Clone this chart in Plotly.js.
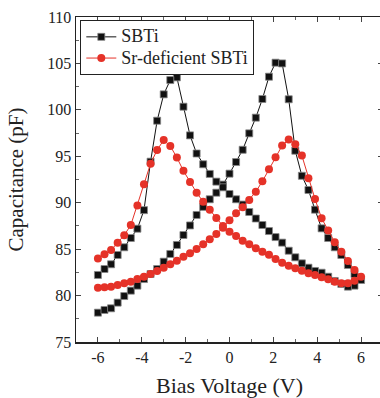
<!DOCTYPE html>
<html>
<head>
<meta charset="utf-8">
<script src="https://cdn.plot.ly/plotly-3.0.1.min.js"></script>
<style>html,body{margin:0;padding:0;overflow:hidden;background:#fff;}#chart{width:390px;height:398px;}</style>
</head>
<body>
<div id="chart"></div>
<script>
// Bias voltage sweep: -6 -> +6 -> -6 V in 0.3 V steps
const voltsUp = [-6,-5.7,-5.4,-5.1,-4.8,-4.5,-4.2,-3.9,-3.6,-3.3,-3,-2.7,-2.4,-2.1,-1.8,-1.5,-1.2,-0.9,-0.6,-0.3,0,0.3,0.6,0.9,1.2,1.5,1.8,2.1,2.4,2.7,3,3.3,3.6,3.9,4.2,4.5,4.8,5.1,5.4,5.7,6];
const voltsDown = [5.7,5.4,5.1,4.8,4.5,4.2,3.9,3.6,3.3,3,2.7,2.4,2.1,1.8,1.5,1.2,0.9,0.6,0.3,0,-0.3,-0.6,-0.9,-1.2,-1.5,-1.8,-2.1,-2.4,-2.7,-3,-3.3,-3.6,-3.9,-4.2,-4.5,-4.8,-5.1,-5.4,-5.7,-6];

// SBTi capacitance (pF)
const sbtiUp = [78.16,78.45,78.63,79.24,79.95,80.53,81.07,81.78,82.32,82.86,83.65,84.48,85.45,86.52,87.55,88.68,89.55,90.37,91.08,91.95,93.13,94.38,95.7,97.47,99.16,101.17,103.57,105.08,105.0,101.14,95.6,92.9,91.37,89.25,87.24,86.2,85.2,84.37,83.29,82.32,81.68];
const sbtiDown = [81.07,80.96,81.25,81.57,82.03,82.46,82.65,83.0,83.47,84.12,84.83,85.7,86.3,86.95,87.6,88.3,89.0,89.8,90.37,90.94,91.66,92.27,93.1,94.14,95.3,97.25,100.34,103.5,103.21,101.67,98.83,94.42,89.2,87.2,86.2,85.2,84.37,83.37,82.86,82.22];

// Sr-deficient SBTi capacitance (pF)
const srUp = [80.85,80.89,80.96,81.14,81.32,81.5,81.78,82.03,82.32,82.65,83.0,83.37,83.76,84.19,84.55,85.02,85.52,86.06,86.63,87.3,88.1,88.86,89.5,90.29,91.19,92.3,93.6,94.9,96.15,96.8,96.3,95.08,92.63,90.4,88.32,87.0,85.75,84.72,83.72,82.75,82.03];
const srDown = [81.6,81.32,81.32,81.5,81.75,81.97,82.22,82.4,82.68,82.94,83.22,83.54,83.94,84.4,84.72,85.09,85.52,85.91,86.41,86.88,87.5,88.35,89.25,90.1,91.08,92.24,93.43,94.87,96.1,96.75,95.68,94.2,92.0,89.7,87.6,86.5,85.7,84.9,84.44,84.0];

const seriesNames = ['SBTi', 'Sr-deficient SBTi'];
const xTicks = [-6,-4,-2,0,2,4,6];
const yTicks = [75,80,85,90,95,100,105,110];

const font = 'Liberation Serif, Times New Roman, serif';
const legendLabel = s => '<span style="font-size:18px">' + s + '</span>';

const traces = [
  {
    x: voltsUp.concat(voltsDown), y: sbtiUp.concat(sbtiDown),
    name: legendLabel(seriesNames[0]), type: 'scatter', mode: 'lines+markers',
    line: {color: '#111', width: 1},
    marker: {symbol: 'square', size: 7, color: '#111', line: {color: '#888', width: 0.8}}
  },
  {
    x: voltsUp.concat(voltsDown), y: srUp.concat(srDown),
    name: legendLabel(seriesNames[1]), type: 'scatter', mode: 'lines+markers',
    line: {color: '#e53228', width: 1},
    marker: {symbol: 'circle', size: 8, color: '#e53228', line: {width: 0}}
  }
];

const axisCommon = {
  showgrid: false, zeroline: false, showline: true, linecolor: '#222', linewidth: 1.5,
  mirror: 'allticks', ticks: 'inside', ticklen: 5, tickwidth: 1, tickcolor: '#444',
  tickfont: {family: font, size: 16, color: '#222'}
};

const layout = {
  width: 390, height: 398,
  margin: {l: 76, r: 7, t: 17, b: 56},
  paper_bgcolor: '#fff', plot_bgcolor: '#fff',
  showlegend: true,
  legend: {
    x: 0.014, y: 0.99, xanchor: 'left', yanchor: 'top',
    bgcolor: '#fff', bordercolor: '#222', borderwidth: 1,
    font: {family: font, size: 14, color: '#222'},
    tracegroupgap: 0
  },
  xaxis: Object.assign({}, axisCommon, {
    range: [-7, 7], tickvals: xTicks, ticktext: xTicks.map(String),
    minor: {dtick: 1, ticklen: 3, tickcolor: '#666', ticks: 'inside'},
    title: {text: 'Bias Voltage (V)', font: {family: font, size: 22, color: '#222'}, standoff: 19}
  }),
  yaxis: Object.assign({}, axisCommon, {
    range: [75, 110], tickvals: yTicks, ticktext: yTicks.map(String),
    minor: {dtick: 2.5, ticklen: 3, tickcolor: '#666', ticks: 'inside'},
    title: {text: 'Capacitance (pF)', font: {family: font, size: 21, color: '#222'}, standoff: 18}
  })
};

Plotly.newPlot('chart', traces, layout, {displayModeBar: false, staticPlot: true});
</script>
</body>
</html>
